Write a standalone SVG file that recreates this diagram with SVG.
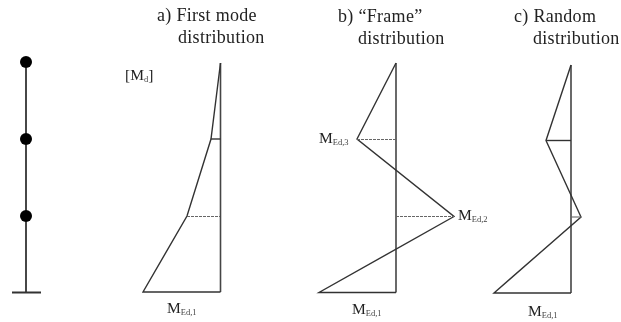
<svg xmlns="http://www.w3.org/2000/svg" width="621" height="322" viewBox="0 0 621 322">
<defs><filter id="soft" x="0" y="0" width="100%" height="100%" filterUnits="objectBoundingBox"><feGaussianBlur stdDeviation="0.45"/></filter></defs>
<style>
text{font-family:"Liberation Serif","Times New Roman",serif;fill:#222}
.t{font-size:18px;letter-spacing:.3px}
.m{font-size:15.500px}
.s{font-size:8.500px;fill:#444}
.axis{stroke:#444;stroke-width:1.600;fill:none}
.line{stroke:#333;stroke-width:1.400;fill:none}
.lvl{stroke:#666;stroke-width:1.100;fill:none}
.stem{stroke:#333;stroke-width:1.800;fill:none}
.dot{fill:#000}
</style>
<rect width="621" height="322" fill="#fff"/>
<g filter="url(#soft)">
<rect width="621" height="322" fill="#fff"/>
<g id="frame-model">
<path class="stem" d="M26 62V292M12 292.500H41"/>
<circle class="dot" cx="26" cy="62" r="6"/>
<circle class="dot" cx="26" cy="139" r="6"/>
<circle class="dot" cx="26" cy="216" r="6"/>
</g>
<g id="connectors">
<path class="axis" d="M220.500 63V292"/>
<path class="line" d="M220.500 63L218 83L211 139L187 216L143 292H220.500"/>
<path class="line" d="M211 139H220.500"/>
<path class="lvl" stroke-dasharray="3 1" d="M187 216.500H220"/>
<path class="axis" d="M396 63V292.500"/>
<path class="line" d="M396 63L357 139L454 216.500L319 292.500H396"/>
<path class="lvl" stroke-dasharray="3 1" d="M357 139.500H396M396 216.500H454"/>
<path class="axis" d="M571 65V293"/>
<path class="line" d="M571 65L546 140.500L581 217L494 293H571"/>
<path class="line" d="M546 140.500H571"/>
<path class="lvl" d="M571 217H581"/>
</g>
<g id="title-a">
<text class="t" x="157" y="21">a) First mode</text>
<text class="t" x="178" y="43">distribution</text>
</g>
<g id="title-b">
<text class="t" x="338" y="22">b) “Frame”</text>
<text class="t" x="358" y="44">distribution</text>
</g>
<g id="title-c">
<text class="t" x="514" y="22">c) Random</text>
<text class="t" x="533" y="44">distribution</text>
</g>
<g id="label-md">
<text class="m" x="125" y="80">[M<tspan class="s" dy="2">d</tspan><tspan dy="-2">]</tspan></text>
</g>
<g id="label-a1">
<text class="m" x="167" y="313">M<tspan class="s" dy="2">Ed,1</tspan></text>
</g>
<g id="label-b3">
<text class="m" x="319" y="143">M<tspan class="s" dy="2">Ed,3</tspan></text>
</g>
<g id="label-b2">
<text class="m" x="458" y="220">M<tspan class="s" dy="2">Ed,2</tspan></text>
</g>
<g id="label-b1">
<text class="m" x="352" y="314">M<tspan class="s" dy="2">Ed,1</tspan></text>
</g>
<g id="label-c1">
<text class="m" x="528" y="316">M<tspan class="s" dy="2">Ed,1</tspan></text>
</g>
</g>
</svg>
